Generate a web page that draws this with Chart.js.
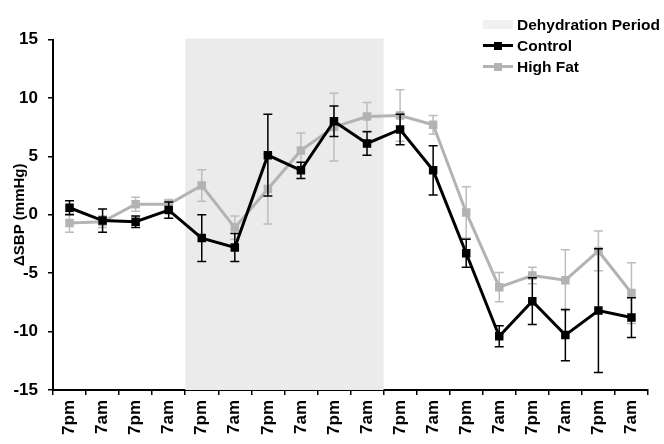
<!DOCTYPE html>
<html>
<head>
<meta charset="utf-8">
<script src="https://cdn.jsdelivr.net/npm/chart.js"></script>
<style>
  html, body { margin: 0; padding: 0; background: #fff; }
  #wrap { position: relative; width: 664px; height: 444px; overflow: hidden; }
  #legend { position: absolute; left: 483px; top: 14px; font: bold 15.5px "Liberation Sans", Arial, sans-serif; color: #000; }
  .row { display: flex; align-items: center; height: 21px; white-space: nowrap; }
  .sw { position: relative; width: 30px; height: 21px; margin-right: 4px; }
  .sw .box { position: absolute; left: 0; top: 6px; width: 30px; height: 9px; }
  .sw .ln { position: absolute; left: 0; top: 9px; width: 30px; height: 3px; }
  .sw .sq { position: absolute; left: 11px; top: 7px; width: 8px; height: 8px; }
</style>
</head>
<body>
<div id="wrap">
  <canvas id="myChart" width="664" height="444"></canvas>
  <div id="legend"></div>
</div>
<script>
// categories (alternating evening / morning readings)
var timeLabels = ['7pm', '7am', '7pm', '7am', '7pm', '7am', '7pm', '7am', '7pm',
                  '7am', '7pm', '7am', '7pm', '7am', '7pm', '7am', '7pm', '7am'];

// ΔSBP means and error (+/-)
var controlValues = [0.6, -0.5, -0.6, 0.4, -2.0, -2.8, 5.1, 3.8, 8.0, 6.1, 7.3, 3.8, -3.3, -10.4, -7.4, -10.3, -8.2, -8.8];
var controlErrors = [0.6, 1.0, 0.5, 0.7, 2.0, 1.2, 3.5, 0.7, 1.3, 1.0, 1.3, 2.1, 1.2, 0.9, 2.0, 2.2, 5.3, 1.7];
var highFatValues = [-0.7, -0.6, 0.9, 0.9, 2.5, -1.1, 2.2, 5.5, 7.5, 8.4, 8.5, 7.7, 0.2, -6.2, -5.2, -5.6, -3.1, -6.7];
var highFatErrors = [0.8, 0.5, 0.6, 0.4, 1.35, 1.0, 3.0, 1.5, 2.9, 1.2, 2.2, 0.8, 2.2, 1.25, 0.7, 2.6, 1.7, 2.6];

// shaded period, first and last category index
var periodLabel = 'Dehydration Period';
var periodStart = 4;
var periodEnd = 9;

var yTicks = [-15, -10, -5, 0, 5, 10, 15];

var FONT = '"Liberation Sans", Arial, sans-serif';

//shaded dehydration band behind the lines
var periodBand = {
  id: 'periodBand',
  beforeDatasetsDraw: function(chart) {
    var x = chart.scales.x;
    var area = chart.chartArea;
    var half = (x.getPixelForValue(1) - x.getPixelForValue(0)) / 2;
    var left = x.getPixelForValue(periodStart) - half;
    var right = x.getPixelForValue(periodEnd) + half;
    var ctx = chart.ctx;
    ctx.save();
    ctx.fillStyle = '#ebebeb';
    ctx.fillRect(left, area.top - 1, right - left, area.bottom - area.top + 1);
    ctx.restore();
  }
};

//error bars, drawn just before each dataset
var errorBars = {
  id: 'errorBars',
  beforeDatasetDraw: function(chart, args) {
    var ds = chart.data.datasets[args.index];
    if (!ds.errors) return;
    var y = chart.scales.y;
    var ctx = chart.ctx;
    ctx.save();
    ctx.strokeStyle = ds.errorColor;
    ctx.lineWidth = 1.5;
    args.meta.data.forEach(function(pt, i) {
      var v = ds.data[i];
      var e = ds.errors[i];
      var top = y.getPixelForValue(v + e);
      var bot = y.getPixelForValue(v - e);
      ctx.beginPath();
      ctx.moveTo(pt.x, top);
      ctx.lineTo(pt.x, bot);
      ctx.moveTo(pt.x - 4.5, top);
      ctx.lineTo(pt.x + 4.5, top);
      ctx.moveTo(pt.x - 4.5, bot);
      ctx.lineTo(pt.x + 4.5, bot);
      ctx.stroke();
    });
    ctx.restore();
  }
};

function makeSeries(label, values, errors, color, errorColor) {
  return {
    label: label,
    data: values,
    errors: errors,
    errorColor: errorColor,
    borderColor: color,
    backgroundColor: color,
    borderWidth: 3,
    pointStyle: 'rect',
    pointRadius: 6,
    pointBorderWidth: 0,
    pointBackgroundColor: color,
    tension: 0
  };
}

var datasets = [
  makeSeries('Control', controlValues, controlErrors, '#000000', '#000000'),
  makeSeries('High Fat', highFatValues, highFatErrors, '#b3b3b3', '#bdbdbd')
];

var ctx = document.getElementById('myChart').getContext('2d');
var myChart = new Chart(ctx, {
  type: 'line',
  data: { labels: timeLabels, datasets: datasets },
  plugins: [periodBand, errorBars],
  options: {
    responsive: false,
    animation: false,
    layout: { padding: { top: 39.5, right: 16, left: 0, bottom: 0 } },
    plugins: { legend: { display: false }, tooltip: { enabled: false } },
    scales: {
      x: {
        offset: true,
        afterFit: function(s) { s.height = 54; },
        grid: { drawOnChartArea: false, offset: true, color: '#000', tickLength: 5, lineWidth: 1.5 },
        border: { color: '#000', width: 2 },
        ticks: {
          minRotation: 90, maxRotation: 90, padding: 5, color: '#000',
          font: { family: FONT, size: 17, weight: 'bold' }
        }
      },
      y: {
        min: -15, max: 15,
        afterFit: function(s) { s.width = 53; },
        afterBuildTicks: function(s) { s.ticks = yTicks.map(function(v) { return { value: v }; }); },
        grid: { drawOnChartArea: false, color: '#000', tickLength: 5, lineWidth: 1.5 },
        border: { color: '#000', width: 2 },
        ticks: {
          padding: 10, color: '#000',
          font: { family: FONT, size: 17, weight: 'bold' }
        },
        title: {
          display: true, text: 'ΔSBP (mmHg)', color: '#000',
          padding: { top: 11, bottom: 0 },
          font: { family: FONT, size: 15, weight: 'bold' }
        }
      }
    }
  }
});

// legend built from the same labels / colours
function buildLegend() {
  var html = '<div class="row"><span class="sw"><span class="box" style="background:#f0f0f0"></span></span>' + periodLabel + '</div>';
  datasets.forEach(function(ds) {
    html += '<div class="row"><span class="sw"><span class="ln" style="background:' + ds.borderColor + '"></span>' +
      '<span class="sq" style="background:' + ds.borderColor + '"></span></span>' + ds.label + '</div>';
  });
  document.getElementById('legend').innerHTML = html;
}
buildLegend();
</script>
</body>
</html>
